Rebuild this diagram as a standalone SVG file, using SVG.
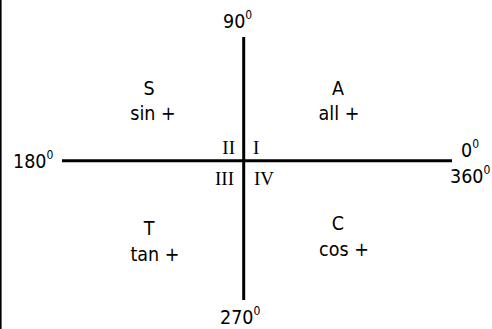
<svg xmlns="http://www.w3.org/2000/svg" width="492" height="329" viewBox="0 0 492 329">
<style>
.t{font-family:"DejaVu Sans Condensed","DejaVu Sans",Tahoma,sans-serif;font-stretch:condensed;font-size:19.5px;fill:#000}
.s{font-size:12px}
.r{font-family:"Liberation Serif","Times New Roman",serif;font-size:19px;fill:#000}
.ax{stroke:#000;stroke-width:3;fill:none}
</style>
<rect width="492" height="329" fill="#fff"/>
<line x1="0.8" y1="0" x2="0.8" y2="329" stroke="#000" stroke-width="1.6"/>
<g id="axes">
<line class="ax" x1="243.7" y1="37" x2="243.7" y2="300"/>
<line class="ax" x1="62" y1="160.7" x2="452" y2="160.7"/>
</g>
<g id="label-90"><text class="t" x="223" y="28">90<tspan class="s" dy="-9">0</tspan></text></g>
<g id="label-180"><text class="t" x="13" y="168">180<tspan class="s" dy="-9">0</tspan></text></g>
<g id="label-0"><text class="t" x="461" y="157">0<tspan class="s" dy="-9">0</tspan></text></g>
<g id="label-360"><text class="t" x="450" y="183">360<tspan class="s" dy="-9">0</tspan></text></g>
<g id="label-270"><text class="t" x="220" y="324">270<tspan class="s" dy="-9">0</tspan></text></g>
<g id="roman">
<text class="r" x="235" y="154" text-anchor="end">II</text>
<text class="r" x="253" y="154">I</text>
<text class="r" x="234" y="185" text-anchor="end">III</text>
<text class="r" x="254" y="185">IV</text>
</g>
<g id="q2"><text class="t" x="149" y="95" text-anchor="middle">S</text><text class="t" x="153" y="120" text-anchor="middle">sin +</text></g>
<g id="q1"><text class="t" x="338" y="95" text-anchor="middle">A</text><text class="t" x="339" y="120" text-anchor="middle">all +</text></g>
<g id="q3"><text class="t" x="149" y="235" text-anchor="middle">T</text><text class="t" x="155" y="261" text-anchor="middle">tan +</text></g>
<g id="q4"><text class="t" x="338" y="230" text-anchor="middle">C</text><text class="t" x="344" y="256" text-anchor="middle">cos +</text></g>
</svg>
